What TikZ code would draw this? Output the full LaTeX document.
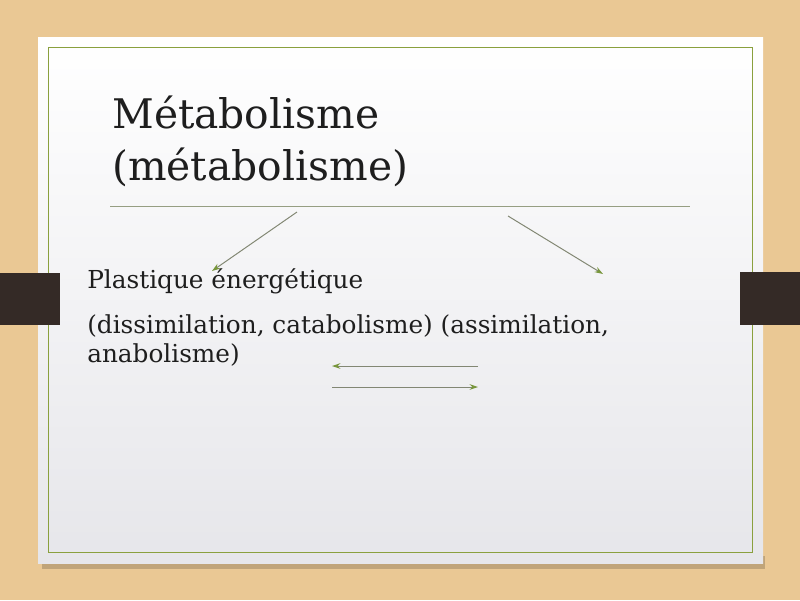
\documentclass[tikz,border=0pt]{standalone}
\usepackage{fontspec}
\setmainfont{DejaVu Serif}
\usetikzlibrary{arrows.meta}
\definecolor{wood}{RGB}{234,200,148}
\definecolor{tabdark}{RGB}{52,42,38}
\definecolor{frameline}{RGB}{138,160,62}
\definecolor{ruleline}{RGB}{150,158,130}
\definecolor{arrowline}{RGB}{130,135,115}
\definecolor{arrowtip}{RGB}{120,150,60}
\definecolor{inktext}{RGB}{30,30,30}

\begin{document}
\begin{tikzpicture}[x=0.025cm, y=-0.025cm,
		titletext/.style={anchor=base west, inner sep=0pt, text=inktext, font=\fontsize{29}{34}\selectfont},
		bodytext/.style={anchor=base west, inner sep=0pt, text=inktext, font=\fontsize{17.6}{21}\selectfont},
		link/.style={line width=0.7pt, color=arrowline, -{Stealth[length=6pt, width=4pt, color=arrowtip]}}]
			%%%%% START %%%%%
			
			\useasboundingbox (0, 0) rectangle (800, 600);
			\fill[wood] (0, 0) rectangle (800, 600);
			\fill[wood!82!black] (42, 556) rectangle (765, 569);
			\shade[top color=white, bottom color={rgb,255:red,230;green,230;blue,234}] (38, 37) rectangle (763, 563);
			\draw[line width=0.6pt, color=frameline] (48, 47) rectangle (752, 552);
			
			\fill[tabdark] (0, 273) rectangle (60, 325);
			\fill[tabdark] (740, 272) rectangle (800, 325);
			
			\node[titletext] (title1) at (112, 128) {Métabolisme};
			\node[titletext] (title2) at (112, 180) {(métabolisme)};
			\draw[line width=0.6pt, color=ruleline] (110, 206) -- (690, 206);
			
			\node[bodytext] (line1) at (87, 288) {Plastique énergétique};
			\node[bodytext] (line2) at (87, 333) {(dissimilation, catabolisme) (assimilation,};
			\node[bodytext] (line3) at (87, 362) {anabolisme)};
			
			\coordinate (leftfrom) at (297, 212);
			\coordinate (leftto) at (212, 271);
			\coordinate (rightfrom) at (508, 216);
			\coordinate (rightto) at (603, 274);
			\coordinate (backfrom) at (478, 366);
			\coordinate (backto) at (332, 366);
			\coordinate (forthfrom) at (332, 387);
			\coordinate (forthto) at (478, 387);
			
			\draw[link] (leftfrom) -- (leftto);
			\draw[link] (rightfrom) -- (rightto);
			\draw[link] (backfrom) -- (backto);
			\draw[link] (forthfrom) -- (forthto);
			
			%%%%% END %%%%%
\end{tikzpicture}
\end{document}
